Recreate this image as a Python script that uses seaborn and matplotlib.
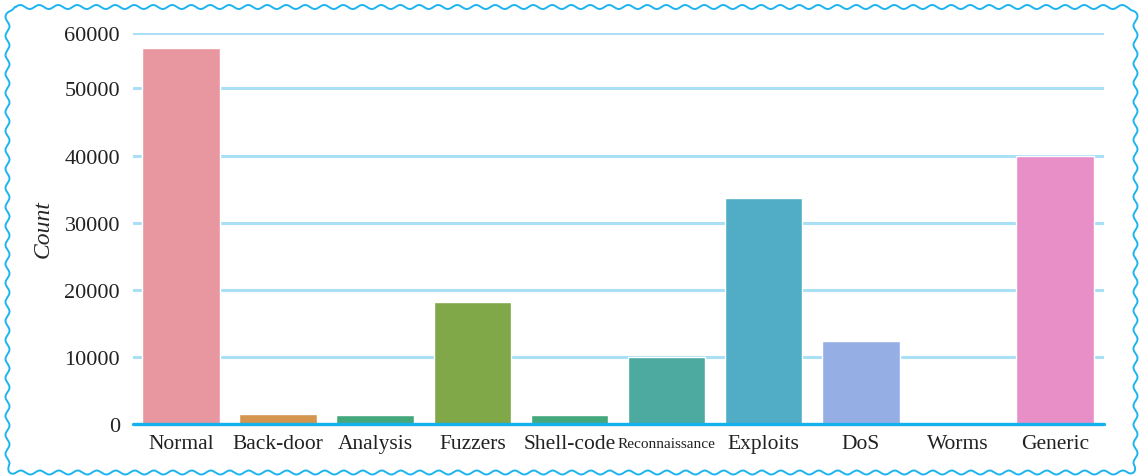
import numpy as np
import matplotlib
matplotlib.use("Agg")
import matplotlib.pyplot as plt
import matplotlib.transforms as mtransforms
import seaborn as sns
from matplotlib.lines import Line2D

# data
categories = ["Normal", "Back-door", "Analysis", "Fuzzers", "Shell-code",
              "Reconnaissance", "Exploits", "DoS", "Worms", "Generic"]
counts = [56000, 1500, 1350, 18150, 1350, 10050, 33650, 12300, 130, 39900]
bar_colors = ["#e8969f", "#d4954e", "#43a97d", "#80a848", "#43a97d",
              "#4daaa0", "#51adc6", "#95afe5", "#b39de0", "#e88fc8"]
tick_values = [0, 10000, 20000, 30000, 40000, 50000, 58250]
tick_labels = ["0", "10000", "20000", "30000", "40000", "50000", "60000"]

sns.set_style("white")
plt.rcParams["font.family"] = ["Liberation Serif", "DejaVu Serif"]

W, H = 1140, 477
fig = plt.figure(figsize=(W / 100, H / 100), dpi=100)
ax = fig.add_axes([132.5 / W, 52 / H, 971 / W, 391 / H])

sns.barplot(x=categories, y=counts, hue=categories, palette=bar_colors,
            legend=False, width=0.8, saturation=1, ax=ax)

ax.set_ylim(0, tick_values[-1])
ax.set_yticks(tick_values)
ax.set_yticklabels(tick_labels, fontsize=16, color="#222222")
ax.set_xticks(range(len(categories)))
ax.set_xticklabels(categories, fontsize=15.5, color="#222222")
for lab in ax.get_xticklabels():
    lab.set_verticalalignment("center")
    if lab.get_text() == "Reconnaissance":
        lab.set_fontsize(11)
        lab.set_transform(lab.get_transform() +
                          mtransforms.ScaledTranslation(5 / 100, 0, fig.dpi_scale_trans))
ax.tick_params(axis="both", length=0)
ax.tick_params(axis="y", pad=9)
ax.tick_params(axis="x", pad=14)
ax.set_xlabel("")
ax.set_ylabel("Count", fontsize=17, style="italic", labelpad=8)

ax.yaxis.grid(True, color="#a9e0f6", linewidth=2.2)
ax.set_axisbelow(True)
for spine in ax.spines.values():
    spine.set_visible(False)
ax.axhline(0, color="#15b1ec", linewidth=2.4, zorder=5, clip_on=False)

# wavy frame round the figure
x0, x1, y0, y1, r = 7.5, 1135.5, 3.5, 469.0, 8.0
period, amp = 19.0, 2.0
pts, nrm = [], []
segs = [((x0 + r, y1), (x1 - r, y1), (0, 1)),
        ((x1, y1 - r), (x1, y0 + r), (1, 0)),
        ((x1 - r, y0), (x0 + r, y0), (0, -1)),
        ((x0, y0 + r), (x0, y1 - r), (-1, 0))]
centers = [(x1 - r, y1 - r), (x1 - r, y0 + r), (x0 + r, y0 + r), (x0 + r, y1 - r)]
start_ang = [np.pi / 2, 0, -np.pi / 2, np.pi]
for (a, b, n), c, th0 in zip(segs, centers, start_ang):
    L = np.hypot(b[0] - a[0], b[1] - a[1])
    t = np.linspace(0, 1, int(L) + 1)
    for tt in t:
        pts.append((a[0] + (b[0] - a[0]) * tt, a[1] + (b[1] - a[1]) * tt))
        nrm.append(n)
    th = np.linspace(th0, th0 - np.pi / 2, 20)
    for ang in th:
        pts.append((c[0] + r * np.cos(ang), c[1] + r * np.sin(ang)))
        nrm.append((np.cos(ang), np.sin(ang)))
pts = np.array(pts)
nrm = np.array(nrm)
s = np.concatenate([[0], np.cumsum(np.hypot(*np.diff(pts, axis=0).T))])
off = amp * np.sin(2 * np.pi * s / period)
wx = (pts[:, 0] + nrm[:, 0] * off) / W
wy = (pts[:, 1] + nrm[:, 1] * off) / H
fig.add_artist(Line2D(np.append(wx, wx[0]), np.append(wy, wy[0]),
                      transform=fig.transFigure, color="#1db4ef", linewidth=1.4))

fig.savefig("out.png", dpi=100)
